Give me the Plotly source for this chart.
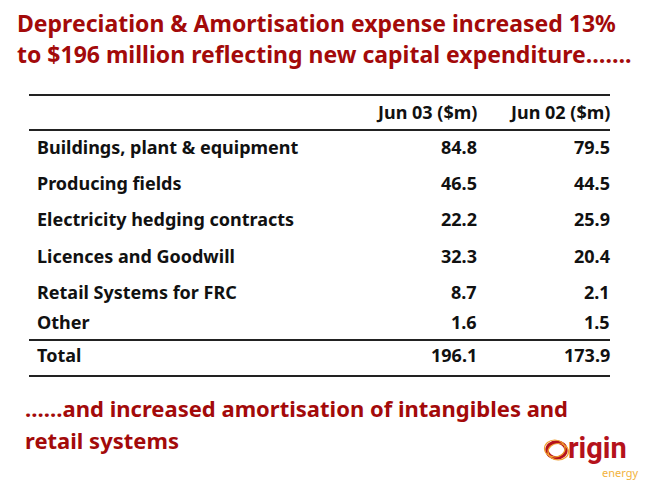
import plotly.graph_objects as go

title_lines = ["Depreciation &amp; Amortisation expense increased 13%",
               "to $196 million reflecting new capital expenditure……."]
headers = ["Jun 03 ($m)", "Jun 02 ($m)"]
categories = ["Buildings, plant &amp; equipment", "Producing fields",
              "Electricity hedging contracts", "Licences and Goodwill",
              "Retail Systems for FRC", "Other", "Total"]
jun03 = [84.8, 46.5, 22.2, 32.3, 8.7, 1.6, 196.1]
jun02 = [79.5, 44.5, 25.9, 20.4, 2.1, 1.5, 173.9]
footer_lines = ["……and increased amortisation of intangibles and",
                "retail systems"]
page_label = "Page 10"

# page has an 8px body margin; map data coords to page pixels
OFF = 8
W, H = 650 - OFF, 487 - OFF
RED = "#A30A0A"
FONT = "Noto Sans"

fig = go.Figure()
fig.update_layout(width=W, height=H, margin=dict(l=0, r=0, t=0, b=0),
                  paper_bgcolor="white", plot_bgcolor="white", showlegend=False,
                  xaxis=dict(range=[OFF, 650], visible=False, fixedrange=True),
                  yaxis=dict(range=[487, OFF], visible=False, fixedrange=True))

ann = []
def txt(x, y, s, size, color="black", anchor="left", bold=True, family=FONT):
    ann.append(dict(x=x, y=y, xref="x", yref="y", text=(f"<b>{s}</b>" if bold else s),
                    showarrow=False, xanchor=anchor, yanchor="middle", borderpad=0,
                    font=dict(family=family, size=size, color=color)))

# title
txt(16, 23, title_lines[0], 23, RED)
txt(16, 54, title_lines[1], 23, RED)

# table header
col1, col2 = 478, 611
txt(col1, 112, headers[0], 18, "#111", "right")
txt(col2, 112, headers[1], 18, "#111", "right")

row_y = [147, 183, 219, 256, 292, 322, 355]
for i, cat in enumerate(categories):
    txt(36, row_y[i], cat, 18, "#111")
    txt(col1, row_y[i], f"{jun03[i]:.1f}", 18, "#111", "right")
    txt(col2, row_y[i], f"{jun02[i]:.1f}", 18, "#111", "right")

shapes = []
for yy in [95, 130, 340, 376]:
    shapes.append(dict(type="line", xref="x", yref="y", x0=29, x1=610, y0=yy, y1=yy,
                       line=dict(color="#222", width=2)))

# footer
txt(24, 408, footer_lines[0], 22, RED)
txt(24, 440, footer_lines[1], 22, RED)
txt(2, 478, page_label, 9, "#222", bold=False)

# logo: swirl "O" + text
LOGO_RED = "#B5121B"
ORANGE = "#F0A030"
shapes.append(dict(type="circle", xref="x", yref="y", x0=547, x1=566, y0=442, y1=458,
                   line=dict(color=LOGO_RED, width=3.5)))
shapes.append(dict(type="circle", xref="x", yref="y", x0=544.5, x1=565, y0=440, y1=457,
                   line=dict(color=ORANGE, width=1.2)))
shapes.append(dict(type="circle", xref="x", yref="y", x0=548, x1=568.5, y0=443.5, y1=460,
                   line=dict(color=ORANGE, width=1.2)))
txt(567, 448, "rigin", 29, LOGO_RED, "left", family="Roboto")
txt(639, 472, "energy", 11, "#F2B33D", "right", bold=False)

fig.update_layout(annotations=ann, shapes=shapes)
fig.write_html("out.html")
